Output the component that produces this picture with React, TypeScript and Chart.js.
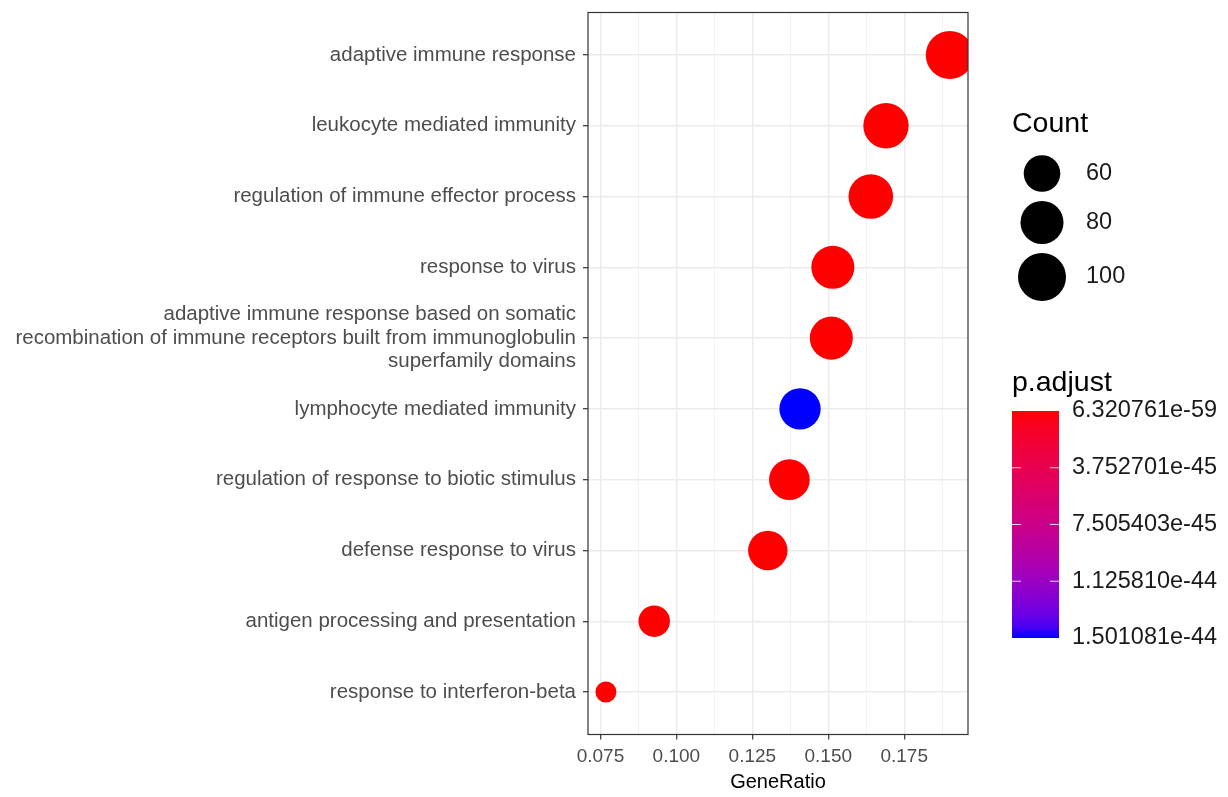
import React, { useEffect, useRef } from 'react';
import { Chart, registerables } from 'chart.js';

Chart.register(...registerables);

// ---------------- data ----------------
const TERMS: (string | string[])[] = [
  'adaptive immune response',
  'leukocyte mediated immunity',
  'regulation of immune effector process',
  'response to virus',
  [
    'adaptive immune response based on somatic',
    'recombination of immune receptors built from immunoglobulin',
    'superfamily domains',
  ],
  'lymphocyte mediated immunity',
  'regulation of response to biotic stimulus',
  'defense response to virus',
  'antigen processing and presentation',
  'response to interferon-beta',
];
const GENE_RATIO = [0.190, 0.169, 0.164, 0.1515, 0.151, 0.1407, 0.1372, 0.1301, 0.0927, 0.0768];
const COUNTS = [100, 89, 86, 80, 80, 74, 72, 68, 49, 40];
const P_ADJUST = [
  6.320761e-59, 2.1e-55, 3.4e-53, 1.2e-51, 5.6e-51, 1.501081e-44, 2.3e-50, 4.1e-49, 7.7e-49, 9.2e-48,
];
const X_MAJOR_TICKS = [0.075, 0.1, 0.125, 0.15, 0.175];
const X_MINOR_TICKS = [0.0875, 0.1125, 0.1375, 0.1625, 0.1875];
const SIZE_BREAKS = [60, 80, 100];
const COLOR_BREAKS = [6.320761e-59, 3.752701e-45, 7.505403e-45, 1.12581e-44, 1.501081e-44];

// ---------------- styling helpers ----------------
const FONT = '"Liberation Sans", Arial, Helvetica, sans-serif';
const R_MIN = 10.5;
const R_MAX = 24;
const C_MIN = Math.min(...COUNTS);
const C_MAX = Math.max(...COUNTS);
const P_MIN = Math.min(...P_ADJUST);
const P_MAX = Math.max(...P_ADJUST);

function sizeOf(c: number) {
  const t = Math.max(0, Math.min(1, (c - C_MIN) / (C_MAX - C_MIN)));
  return R_MIN + (R_MAX - R_MIN) * Math.sqrt(t);
}

function s2l(c: number) {
  c /= 255;
  return c <= 0.04045 ? c / 12.92 : Math.pow((c + 0.055) / 1.055, 2.4);
}
function l2s(c: number) {
  const v = c <= 0.0031308 ? 12.92 * c : 1.055 * Math.pow(c, 1 / 2.4) - 0.055;
  return Math.round(Math.max(0, Math.min(1, v)) * 255);
}
function rgbToLab(rgb: number[]) {
  const R = s2l(rgb[0]), G = s2l(rgb[1]), B = s2l(rgb[2]);
  const X = (0.4124 * R + 0.3576 * G + 0.1805 * B) / 0.95047;
  const Y = 0.2126 * R + 0.7152 * G + 0.0722 * B;
  const Z = (0.0193 * R + 0.1192 * G + 0.9505 * B) / 1.08883;
  const f = (t: number) => (t > 0.008856 ? Math.cbrt(t) : 7.787 * t + 16 / 116);
  const fx = f(X), fy = f(Y), fz = f(Z);
  return [116 * fy - 16, 500 * (fx - fy), 200 * (fy - fz)];
}
function labToRgb(lab: number[]) {
  const fy = (lab[0] + 16) / 116;
  const fx = fy + lab[1] / 500;
  const fz = fy - lab[2] / 200;
  const finv = (t: number) => (t * t * t > 0.008856 ? t * t * t : (t - 16 / 116) / 7.787);
  const X = 0.95047 * finv(fx), Y = finv(fy), Z = 1.08883 * finv(fz);
  const R = 3.2406 * X - 1.5372 * Y - 0.4986 * Z;
  const G = -0.9689 * X + 1.8758 * Y + 0.0415 * Z;
  const B = 0.0557 * X - 0.204 * Y + 1.057 * Z;
  return [l2s(R), l2s(G), l2s(B)];
}
const LAB_LOW = rgbToLab([255, 0, 0]);
const LAB_HIGH = rgbToLab([0, 0, 255]);
function colorAt(t: number) {
  const lab = LAB_LOW.map((v, i) => v + (LAB_HIGH[i] - v) * t);
  const [r, g, b] = labToRgb(lab);
  return `rgb(${r},${g},${b})`;
}
function colorOf(p: number) {
  return colorAt((p - P_MIN) / (P_MAX - P_MIN));
}

const isMajor = (v: number) => X_MAJOR_TICKS.some((m) => Math.abs(m - v) < 1e-9);

const zeroPadding = (scale: any) => {
  scale.paddingTop = 0;
  scale.paddingBottom = 0;
  scale.paddingLeft = 0;
  scale.paddingRight = 0;
};

const overlayPlugin = {
  id: 'overlay',
  afterDatasetsDraw(chart: any) {
    const { ctx, chartArea } = chart;
    ctx.save();
    ctx.strokeStyle = '#333333';
    ctx.lineWidth = 1.2;
    ctx.strokeRect(chartArea.left, chartArea.top, chartArea.right - chartArea.left, chartArea.bottom - chartArea.top);
    ctx.restore();
  },
  afterDraw(chart: any) {
    const { ctx } = chart;
    ctx.save();
    // ---- size legend ----
    ctx.fillStyle = '#000';
    ctx.textAlign = 'left';
    ctx.textBaseline = 'alphabetic';
    ctx.font = `28.5px ${FONT}`;
    ctx.fillText('Count', 1012, 132);
    const sizeY = [173.5, 222.5, 277];
    ctx.font = `23.5px ${FONT}`;
    SIZE_BREAKS.forEach((c, i) => {
      ctx.beginPath();
      ctx.fillStyle = '#000';
      ctx.arc(1042, sizeY[i], sizeOf(c), 0, Math.PI * 2);
      ctx.fill();
      ctx.fillStyle = '#1a1a1a';
      ctx.textBaseline = 'middle';
      ctx.fillText(String(c), 1086, sizeY[i]);
    });
    // ---- colour bar ----
    ctx.fillStyle = '#000';
    ctx.textBaseline = 'alphabetic';
    ctx.font = `28.5px ${FONT}`;
    ctx.fillText('p.adjust', 1012, 391);
    const bx = 1012, bw = 47, by = 411, bh = 227;
    const grad = ctx.createLinearGradient(0, by, 0, by + bh);
    for (let k = 0; k <= 20; k++) grad.addColorStop(k / 20, colorAt(k / 20));
    ctx.fillStyle = grad;
    ctx.fillRect(bx, by, bw, bh);
    ctx.font = `23.5px ${FONT}`;
    ctx.textBaseline = 'middle';
    COLOR_BREAKS.forEach((v) => {
      const y = by + ((v - P_MIN) / (P_MAX - P_MIN)) * bh;
      if (y > by + 1 && y < by + bh - 1) {
        ctx.strokeStyle = 'rgba(255,255,255,0.8)';
        ctx.lineWidth = 1;
        ctx.beginPath();
        ctx.moveTo(bx, y);
        ctx.lineTo(bx + 9, y);
        ctx.moveTo(bx + bw - 9, y);
        ctx.lineTo(bx + bw, y);
        ctx.stroke();
      }
      ctx.fillStyle = '#1a1a1a';
      ctx.fillText(v.toExponential(6), 1072, y);
    });
    ctx.restore();
  },
};

export default function App() {
  const ref = useRef<HTMLCanvasElement>(null);
  useEffect(() => {
    document.body.style.margin = '0';
    const chart = new Chart(ref.current!, {
      type: 'scatter',
      data: {
        datasets: [
          {
            data: GENE_RATIO.map((x, i) => ({ x, y: i })),
            pointRadius: (ctx: any) => sizeOf(COUNTS[ctx.dataIndex]),
            pointHoverRadius: (ctx: any) => sizeOf(COUNTS[ctx.dataIndex]),
            pointBackgroundColor: (ctx: any) => colorOf(P_ADJUST[ctx.dataIndex]),
            pointBorderWidth: 0,
            pointBorderColor: 'rgba(0,0,0,0)',
            clip: 0,
          } as any,
        ],
      },
      options: {
        animation: false,
        responsive: false,
        events: [],
        layout: { autoPadding: false, padding: { left: 0, right: 260, top: 12.5, bottom: 0 } },
        plugins: { legend: { display: false }, tooltip: { enabled: false } },
        scales: {
          x: {
            type: 'linear',
            min: 0.0709,
            max: 0.196,
            afterBuildTicks: (scale: any) => {
              scale.ticks = [...X_MAJOR_TICKS, ...X_MINOR_TICKS]
                .sort((a, b) => a - b)
                .map((v) => ({ value: v }));
            },
            afterFit: (scale: any) => {
              scale.height = 62.5;
              zeroPadding(scale);
            },
            grid: {
              color: (ctx: any) => (ctx.tick && isMajor(ctx.tick.value) ? '#EBEBEB' : '#F2F2F2'),
              lineWidth: (ctx: any) => (ctx.tick && isMajor(ctx.tick.value) ? 1.4 : 1),
              tickColor: (ctx: any) => (ctx.tick && isMajor(ctx.tick.value) ? '#333333' : 'rgba(0,0,0,0)'),
              tickLength: 5,
              tickWidth: 1.2,
              drawTicks: true,
            } as any,
            border: { display: false },
            ticks: {
              autoSkip: false,
              maxRotation: 0,
              padding: 6,
              color: '#4D4D4D',
              font: { family: FONT, size: 19 },
              callback: (v: any) => (isMajor(Number(v)) ? Number(v).toFixed(3) : ''),
            },
            title: {
              display: true,
              text: 'GeneRatio',
              color: '#000',
              font: { family: FONT, size: 20 },
              padding: { top: 0, bottom: 3 },
            },
          },
          y: {
            type: 'linear',
            reverse: true,
            min: -0.6,
            max: 9.6,
            afterBuildTicks: (scale: any) => {
              scale.ticks = TERMS.map((_, i) => ({ value: i }));
            },
            afterFit: (scale: any) => {
              scale.width = 588;
              zeroPadding(scale);
            },
            grid: {
              color: '#EBEBEB',
              lineWidth: 1.4,
              tickColor: '#333333',
              tickLength: 5,
              tickWidth: 1.2,
              drawTicks: true,
            } as any,
            border: { display: false },
            ticks: {
              autoSkip: false,
              padding: 7,
              color: '#4D4D4D',
              font: { family: FONT, size: 20.5, lineHeight: 1.15 },
              callback: (v: any) => TERMS[Number(v)] as any,
            },
          },
        },
      },
      plugins: [overlayPlugin],
    });
    return () => chart.destroy();
  }, []);
  return (
    <div style={{ width: 1228, height: 797 }}>
      <canvas ref={ref} width={1228} height={797} style={{ display: 'block' }} />
    </div>
  );
}
